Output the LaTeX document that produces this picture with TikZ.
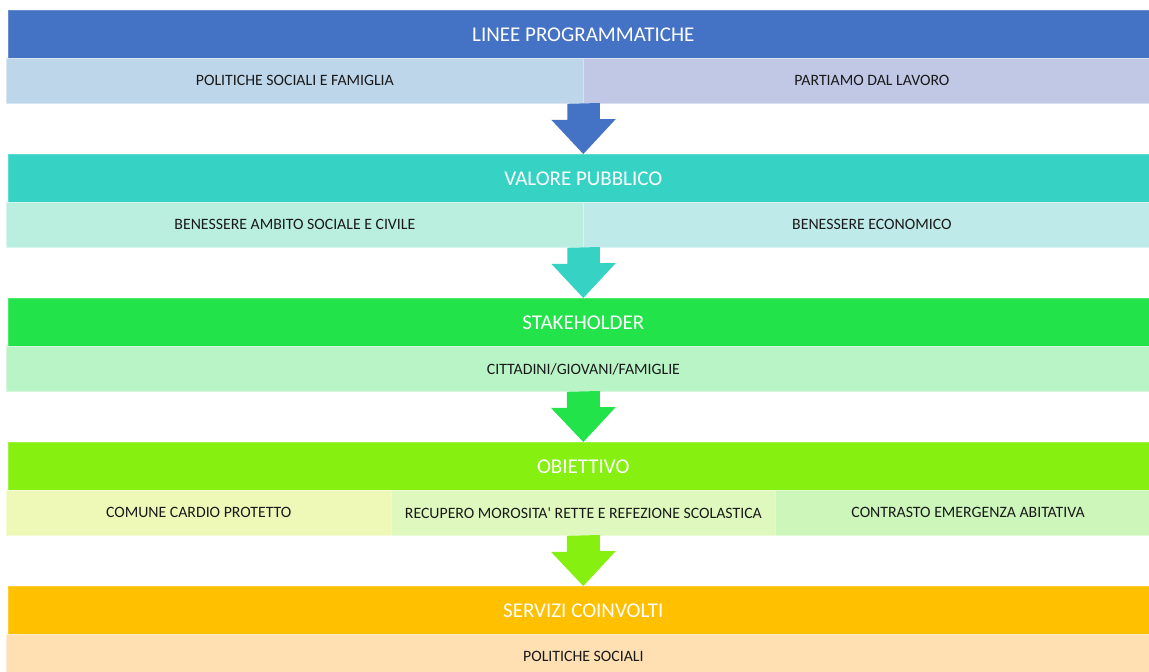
\documentclass[tikz,border=0pt]{standalone}
\usepackage{fontspec}
\setmainfont{Carlito}

\definecolor{lpblue}{HTML}{4472C4}
\definecolor{lpcellA}{HTML}{BED6EA}
\definecolor{lpcellB}{HTML}{C0C8E6}
\definecolor{vpteal}{HTML}{36D3C5}
\definecolor{vpcellA}{HTML}{BAEFDF}
\definecolor{vpcellB}{HTML}{BEEBE9}
\definecolor{skgreen}{HTML}{22E34A}
\definecolor{skcell}{HTML}{B9F4C7}
\definecolor{oblime}{HTML}{86F011}
\definecolor{obcellA}{HTML}{EEF9B8}
\definecolor{obcellB}{HTML}{DEF8BD}
\definecolor{obcellC}{HTML}{CCF6BA}
\definecolor{scorange}{HTML}{FFC000}
\definecolor{sccell}{HTML}{FFE0B3}
\definecolor{celltext}{HTML}{1A1A1A}

\tikzset{
  head/.style={fill=#1, draw=#1!80!white, line width=0.6pt, text=white,
    anchor=north west, inner sep=0pt, minimum width=1150pt, minimum height=48pt,
    font=\fontsize{21}{25}\selectfont},
  cell/.style={fill=#1, draw=#1!60!white, line width=0.8pt, text=celltext,
    anchor=north west, inner sep=0pt, minimum height=45pt,
    font=\fontsize{15.8}{18}\selectfont},
  half/.style={minimum width=577pt},
  third/.style={minimum width=384.67pt},
  full/.style={minimum width=1154pt}
}

% block arrow from the bottom of one band to the top of the next
\newcommand{\bandarrow}[3]{%
  \fill[#3] (#1) ++(-16.5,0) -- ++(0,16) -- ++(-16,0) -- (#2)
    -- ++(32.5,-35) -- ++(-16,0) -- ++(0,-16) -- cycle;}

\begin{document}
\begin{tikzpicture}[x=1pt,y=-1pt]
\useasboundingbox[fill=white] (0,0) rectangle (1149,672);

\node[head=lpblue] (lp) at (8,10) {LINEE PROGRAMMATICHE};
\node[cell=lpcellA, half] (lpA) at (6,58) {POLITICHE SOCIALI E FAMIGLIA};
\node[cell=lpcellB, half] (lpB) at (583,58) {PARTIAMO DAL LAVORO};

\node[head=vpteal] (vp) at (8,154) {VALORE PUBBLICO};
\node[cell=vpcellA, half] (vpA) at (6,202) {BENESSERE AMBITO SOCIALE E CIVILE};
\node[cell=vpcellB, half] (vpB) at (583,202) {BENESSERE ECONOMICO};

\node[head=skgreen] (sk) at (8,298) {STAKEHOLDER};
\node[cell=skcell, full] (skA) at (6,346) {CITTADINI/GIOVANI/FAMIGLIE};

\node[head=oblime] (ob) at (8,442) {OBIETTIVO};
\node[cell=obcellA, third] (obA) at (6,490) {COMUNE CARDIO PROTETTO};
\node[cell=obcellB, third] (obB) at (390.67,490) {RECUPERO MOROSITA\textquotesingle{} RETTE E REFEZIONE SCOLASTICA};
\node[cell=obcellC, third] (obC) at (775.33,490) {CONTRASTO EMERGENZA ABITATIVA};

\node[head=scorange] (sc) at (8,586) {SERVIZI COINVOLTI};
\node[cell=sccell, full] (scA) at (6,634) {POLITICHE SOCIALI};

\bandarrow{lpA.south east}{vp.north}{lpblue}
\bandarrow{vpA.south east}{sk.north}{vpteal}
\bandarrow{skA.south}{ob.north}{skgreen}
\bandarrow{obB.south}{sc.north}{oblime}
\end{tikzpicture}
\end{document}
